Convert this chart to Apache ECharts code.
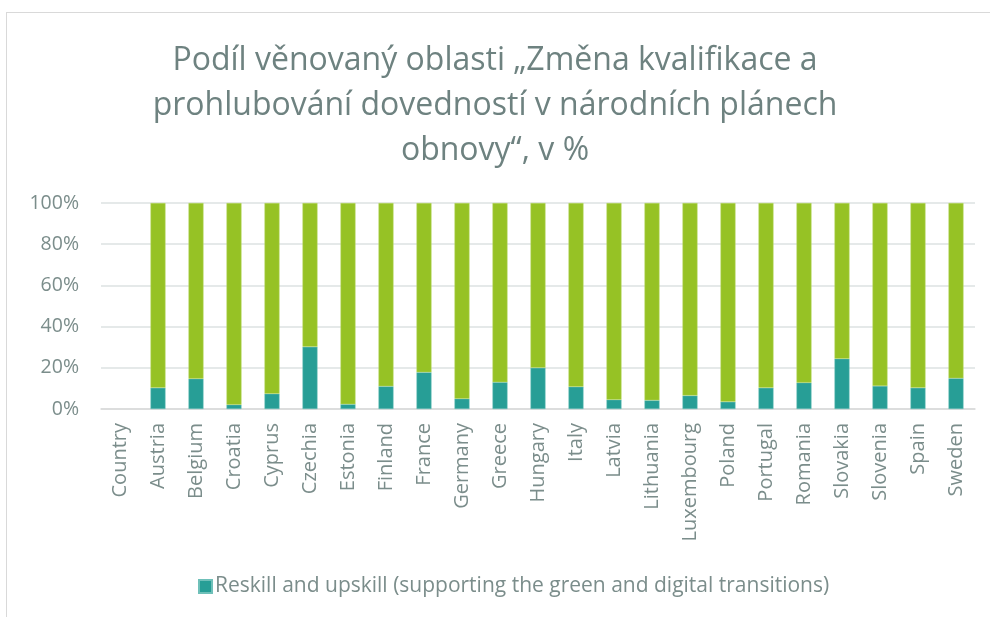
<!DOCTYPE html>
<html>
<head>
<meta charset="utf-8">
<script src="https://cdn.jsdelivr.net/npm/echarts@6/dist/echarts.min.js"></script>
<style>
  html, body { margin: 0; padding: 0; background: #fff; }
  .frame {
    position: absolute;
    left: 6px;
    top: 12px;
    width: 1000px;
    height: 700px;
    border: 1px solid #d9d9d9;
  }
  #chart { position: absolute; left: 0; top: 0; width: 990px; height: 617px; }
</style>
</head>
<body>
<div class="frame"></div>
<div id="chart"></div>
<script>
  // kategorie
  const countries = ['Country', 'Austria', 'Belgium', 'Croatia', 'Cyprus', 'Czechia', 'Estonia', 'Finland', 'France',
    'Germany', 'Greece', 'Hungary', 'Italy', 'Latvia', 'Lithuania', 'Luxembourg', 'Poland', 'Portugal',
    'Romania', 'Slovakia', 'Slovenia', 'Spain', 'Sweden']
  // podil reskill (%)
  const reskill = [null, 10.3, 14.7, 2.1, 7.4, 30.2, 2.3, 11.0, 17.8,
    5.0, 13.0, 20.0, 10.8, 4.5, 4.2, 6.5, 3.5, 10.3,
    12.8, 24.4, 11.2, 10.3, 14.9]
  // zbytek (%)
  const other = [null, 89.7, 85.3, 97.9, 92.6, 69.8, 97.7, 89.0, 82.2,
    95.0, 87.0, 80.0, 89.2, 95.5, 95.8, 93.5, 96.5, 89.7,
    87.2, 75.6, 88.8, 89.7, 85.1]
  const yTicks = [0, 20, 40, 60, 80, 100]

  const reskillName = 'Reskill and upskill (supporting the green and digital transitions)'
  const textColor = '#7b8d8b'

  let chart = echarts.init(document.getElementById('chart'))
  let option = {
    animation: false,
    title: {
      text: 'Podíl věnovaný oblasti „Změna kvalifikace a\nprohlubování dovedností v národních plánech\nobnovy“, v %',
      left: 'center',
      top: 33,
      textStyle: {
        fontFamily: 'Open Sans',
        fontWeight: 'normal',
        fontSize: 32,
        lineHeight: 45,
        color: '#6e8280'
      }
    },
    legend: {
      data: [reskillName],
      bottom: 15,
      left: 193,
      icon: 'rect',
      itemWidth: 13,
      itemHeight: 13,
      itemGap: 4,
      textStyle: {
        fontFamily: 'Open Sans',
        fontSize: 21,
        color: textColor,
        padding: [0, 0, 0, -2]
      }
    },
    grid: {
      left: 101,
      right: 15,
      top: 203,
      bottom: 208
    },
    xAxis: {
      type: 'category',
      data: countries,
      axisLine: { lineStyle: { color: '#d9d9d9', width: 1.5 } },
      axisTick: { show: false },
      axisLabel: {
        rotate: 90,
        interval: 0,
        margin: 14,
        fontFamily: 'Open Sans',
        fontSize: 20,
        color: textColor
      }
    },
    yAxis: {
      type: 'value',
      min: yTicks[0],
      max: yTicks[yTicks.length - 1],
      interval: 20,
      axisLine: { show: false },
      axisTick: { show: false },
      splitLine: { lineStyle: { color: '#dde2e2', width: 1.5 } },
      axisLabel: {
        formatter: '{value}%',
        margin: 22,
        fontFamily: 'Open Sans',
        fontSize: 19.5,
        color: textColor
      }
    },
    series: [
      {
        name: reskillName,
        type: 'bar',
        stack: 'total',
        barWidth: 15,
        data: reskill,
        itemStyle: { color: '#279e96', borderColor: '#6fc0b9', borderWidth: 0.5 }
      },
      {
        name: 'Other',
        type: 'bar',
        stack: 'total',
        barWidth: 15,
        data: other,
        itemStyle: { color: '#96c225', borderColor: '#b9d86a', borderWidth: 0.5 }
      }
    ]
  }
  chart.setOption(option)
</script>
</body>
</html>
